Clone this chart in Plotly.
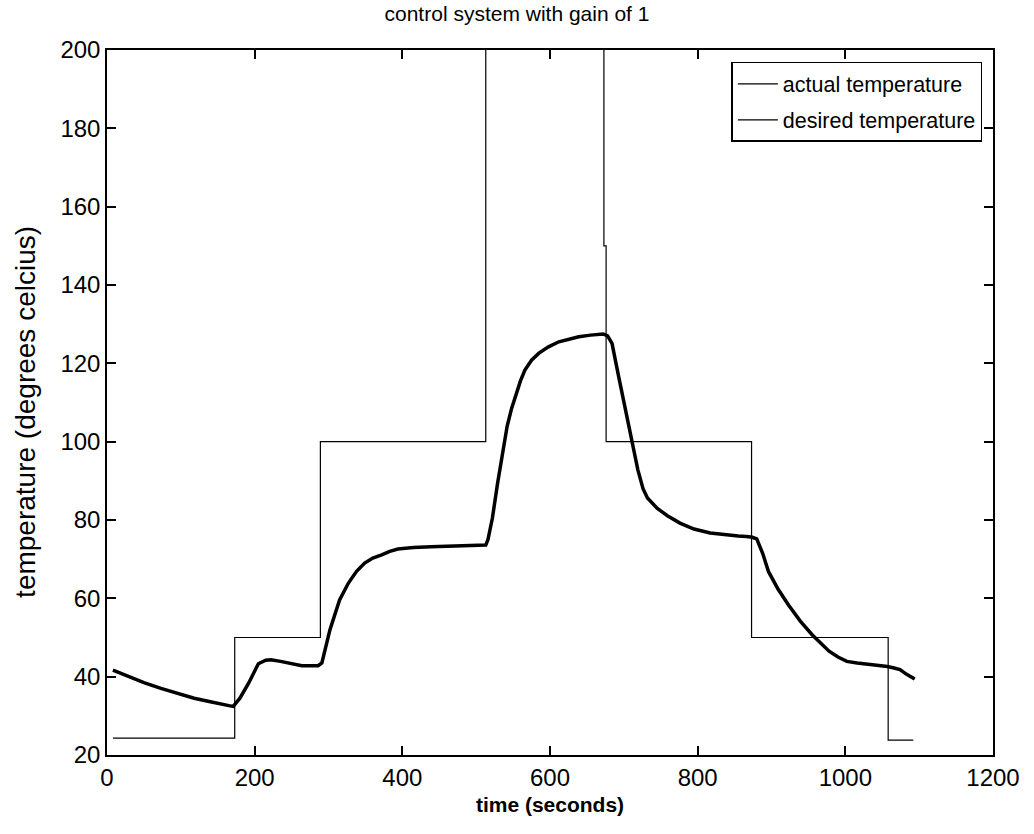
import plotly.graph_objects as go

# actual temperature
time_actual = [8, 29, 50, 73, 95, 118, 140, 153, 165, 171,
               180, 192, 205, 215, 222, 235, 246, 264, 286, 291,
               302, 315, 327, 338, 349, 360, 372, 383, 394, 415,
               439, 470, 500, 513, 516, 522, 529, 536, 542, 548,
               553, 560, 566, 575, 585, 598, 612, 625, 639, 655,
               672, 678, 684, 693, 702, 711, 719, 726, 732, 745,
               759, 776, 795, 817, 840, 855, 866, 874, 880, 888,
               896, 909, 923, 939, 955, 967, 978, 990, 1002, 1016,
               1028, 1042, 1057, 1066, 1074, 1083, 1094]
temp_actual = [41.7, 40.0, 38.5, 37.0, 35.7, 34.5, 33.6, 33.0, 32.6, 32.4,
               34.5, 38.4, 43.3, 44.2, 44.3, 43.9, 43.5, 42.8, 42.8, 43.5,
               52.0, 59.6, 63.9, 66.9, 69.0, 70.3, 71.1, 72.0, 72.6, 73.0,
               73.2, 73.4, 73.5, 73.6, 75.0, 80.5, 89.4, 97.5, 104.0, 108.5,
               111.5, 115.5, 118.3, 120.8, 122.6, 124.2, 125.5, 126.2, 126.8, 127.2,
               127.5, 127.0, 125.1, 116.6, 108.1, 99.6, 92.8, 88.0, 85.6, 83.0,
               81.1, 79.2, 77.7, 76.7, 76.1, 75.9, 75.8, 75.6, 75.2, 71.5,
               66.8, 62.3, 58.3, 54.2, 50.7, 48.4, 46.5, 45.0, 43.9, 43.5,
               43.3, 43.0, 42.6, 42.2, 41.8, 40.6, 39.4]

# desired temperature (step set-points; start time of each step)
time_desired = [8, 173, 289, 513, 673, 676, 873, 1058, 1092]
temp_desired = [24.3, 50, 100, 250, 150, 100, 50, 23.8, 23.8]

x_ticks = [0, 200, 400, 600, 800, 1000, 1200]
y_ticks = [20, 40, 60, 80, 100, 120, 140, 160, 180, 200]

FONT = "Liberation Sans, Arial, sans-serif"

fig = go.Figure()
fig.add_trace(go.Scatter(x=time_actual, y=temp_actual, mode="lines",
                         name="actual temperature", showlegend=False,
                         line=dict(color="black", width=3.5)))
fig.add_trace(go.Scatter(x=time_desired, y=temp_desired, mode="lines",
                         name="desired temperature", showlegend=False, line_shape="hv",
                         line=dict(color="black", width=1.2)))
# legend entries (thin line samples, as in the original)
fig.add_trace(go.Scatter(x=[None], y=[None], mode="lines", name="actual temperature",
                         legendgroup="a", line=dict(color="black", width=1.2)))
fig.add_trace(go.Scatter(x=[None], y=[None], mode="lines", name="desired temperature",
                         legendgroup="d", line=dict(color="black", width=1.2)))

axis_common = dict(showline=True, linecolor="black", linewidth=1.5, mirror="ticks",
                   ticks="inside", ticklen=9, tickwidth=1.5, tickcolor="black",
                   showgrid=False, zeroline=False,
                   tickfont=dict(family=FONT, size=24, color="black"))

fig.update_xaxes(range=[0, 1200], tickvals=x_ticks, ticktext=[str(v) for v in x_ticks],
                 title=dict(text="<b>time (seconds)</b>",
                            font=dict(family=FONT, size=21, color="black"), standoff=8),
                 **axis_common)
fig.update_yaxes(range=[20, 200], tickvals=y_ticks, ticktext=[str(v) for v in y_ticks],
                 **axis_common)

fig.add_annotation(text="temperature (degrees celcius)", xref="paper", yref="paper",
                   x=-0.0927, y=0.4865, xanchor="center", yanchor="middle",
                   textangle=-90, showarrow=False,
                   font=dict(family=FONT, size=28, color="black"))

fig.update_layout(
    width=1034, height=834,
    margin=dict(l=107, r=41, t=50, b=79),
    paper_bgcolor="white", plot_bgcolor="white",
    title=dict(text="control system with gain of 1", x=0.5, xref="container",
               xanchor="center", y=0.992, yanchor="top",
               font=dict(family=FONT, size=21, color="black")),
    legend=dict(x=0.988, y=0.983, xanchor="right", yanchor="top",
                bgcolor="white", bordercolor="black", borderwidth=1.5,
                font=dict(family=FONT, size=21.5, color="black"),
                tracegroupgap=5, itemwidth=40),
    showlegend=True,
)

fig.write_html("out.html")
